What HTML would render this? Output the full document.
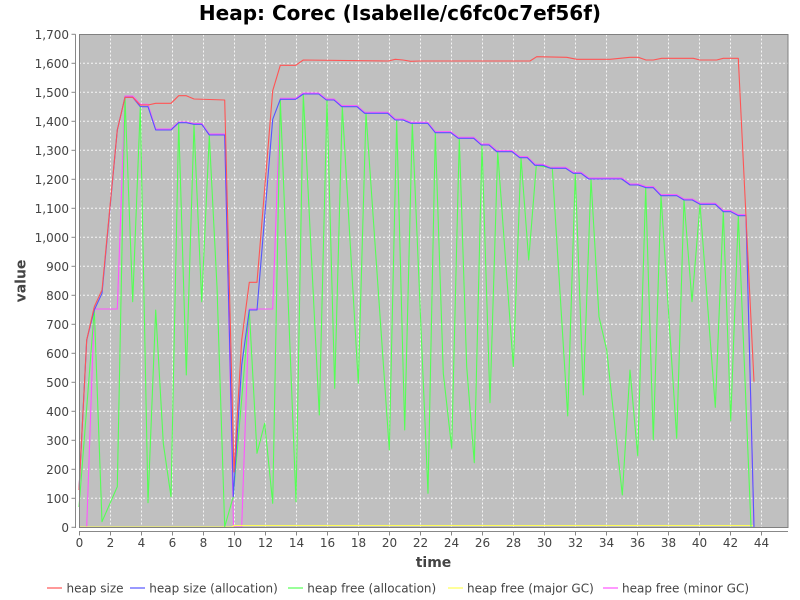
<!DOCTYPE html>
<html><head><meta charset="utf-8"><style>
html,body{margin:0;padding:0;background:#fff;}
svg{display:block;}
.t{font-family:"DejaVu Sans","Liberation Sans",sans-serif;}
</style></head><body>
<svg width="800" height="600" viewBox="0 0 800 600" xmlns="http://www.w3.org/2000/svg">
<rect x="0" y="0" width="800" height="600" fill="#ffffff"/>
<text class="t" x="400" y="20" text-anchor="middle" font-size="20" font-weight="bold" fill="#000">Heap: Corec (Isabelle/c6fc0c7ef56f)</text>
<rect x="79" y="34.5" width="709" height="493.5" fill="#c0c0c0"/>
<g stroke="#ffffff" stroke-width="1" stroke-dasharray="2,2" opacity="0.85">
<line x1="79" x2="788" y1="498.3" y2="498.3"/>
<line x1="79" x2="788" y1="469.3" y2="469.3"/>
<line x1="79" x2="788" y1="440.3" y2="440.3"/>
<line x1="79" x2="788" y1="411.3" y2="411.3"/>
<line x1="79" x2="788" y1="382.3" y2="382.3"/>
<line x1="79" x2="788" y1="353.3" y2="353.3"/>
<line x1="79" x2="788" y1="324.3" y2="324.3"/>
<line x1="79" x2="788" y1="295.3" y2="295.3"/>
<line x1="79" x2="788" y1="266.3" y2="266.3"/>
<line x1="79" x2="788" y1="237.3" y2="237.3"/>
<line x1="79" x2="788" y1="208.3" y2="208.3"/>
<line x1="79" x2="788" y1="179.3" y2="179.3"/>
<line x1="79" x2="788" y1="150.3" y2="150.3"/>
<line x1="79" x2="788" y1="121.3" y2="121.3"/>
<line x1="79" x2="788" y1="92.3" y2="92.3"/>
<line x1="79" x2="788" y1="63.3" y2="63.3"/>
<line y1="34.5" y2="528" x1="110.5" x2="110.5"/>
<line y1="34.5" y2="528" x1="141.5" x2="141.5"/>
<line y1="34.5" y2="528" x1="172.5" x2="172.5"/>
<line y1="34.5" y2="528" x1="203.5" x2="203.5"/>
<line y1="34.5" y2="528" x1="234.5" x2="234.5"/>
<line y1="34.5" y2="528" x1="265.5" x2="265.5"/>
<line y1="34.5" y2="528" x1="296.5" x2="296.5"/>
<line y1="34.5" y2="528" x1="327.5" x2="327.5"/>
<line y1="34.5" y2="528" x1="358.5" x2="358.5"/>
<line y1="34.5" y2="528" x1="389.5" x2="389.5"/>
<line y1="34.5" y2="528" x1="420.5" x2="420.5"/>
<line y1="34.5" y2="528" x1="451.5" x2="451.5"/>
<line y1="34.5" y2="528" x1="482.5" x2="482.5"/>
<line y1="34.5" y2="528" x1="513.5" x2="513.5"/>
<line y1="34.5" y2="528" x1="544.5" x2="544.5"/>
<line y1="34.5" y2="528" x1="575.5" x2="575.5"/>
<line y1="34.5" y2="528" x1="606.5" x2="606.5"/>
<line y1="34.5" y2="528" x1="637.5" x2="637.5"/>
<line y1="34.5" y2="528" x1="668.5" x2="668.5"/>
<line y1="34.5" y2="528" x1="699.5" x2="699.5"/>
<line y1="34.5" y2="528" x1="730.5" x2="730.5"/>
<line y1="34.5" y2="528" x1="761.5" x2="761.5"/>
</g>
<g fill="none" stroke-width="1.1" stroke-linejoin="round">
<!-- minor GC (magenta) -->
<polyline stroke="#ff55ff" points="86.7,527 94.3,309 117.3,309 125,96 132.7,96 140.3,104.3 148,104.3 155.7,129 171,129 178.7,122 186.3,122 194,123.5 201.7,123.5 209.3,134 224.7,134 233.5,527 241.7,527 249.3,309 272.7,309 280.3,98.3 295.7,98.3 303.3,93 318.7,93 326.3,99 334,99 341.7,105.7 357,105.7 364.7,112.3 387.7,112.3 395.3,119 403,119 410.7,122.3 427.7,122.3 435.3,131.7 450.7,131.7 458.3,137.3 473.7,137.3 481.3,144 489,144 496.7,150.7 512,150.7 519.7,156.7 527.3,156.7 535,164.3 542.7,164.3 550.3,167.3 565.7,167.3 573.3,172.3 581,172.3 588.7,178 621.7,178 630,184 638.3,184 646,186.7 653.3,186.7 661,194.7 676.7,194.7 684,199 692.3,199 700,203.3 715.3,203.3 723.3,210.7 730.7,210.7 738.3,214.7 746,214.7 754,527"/>
<!-- major GC (yellow) -->
<polyline stroke="#ffff55" points="79,527 232,527 234,525.5 753,525.5"/>
<!-- heap free (allocation) green -->
<polyline stroke="#55ff55" points="79,507 94.3,310 102,521.7 117.3,486.7 125,97.3 132.7,301.7 140.3,106.7 148,502.7 155.7,310 163.3,443.3 171,496.7 178.7,122.7 186.3,375 194,125 201.7,301.7 209.3,136 217,286.7 224.7,526.7 233.3,496.7 249.3,310 257,453.3 264.7,423.3 272.7,503.3 280.3,99.3 296,501.7 303.3,94 319.3,415 327,100 334.7,388.3 342.3,106.7 358.3,383.3 366,113.3 389.3,450 396.7,120 404.7,430 412.3,123.3 428,493.3 435.3,132.7 443.3,373.3 451.7,448.3 459.3,138.3 466.7,366.7 474.3,462.7 482,145 490,402.7 497.7,151.7 513.3,366.7 521,157.7 528.7,260 536.3,165.3 552.3,168.3 567.7,416 575.3,173.3 583.3,395 591,179 599,316.7 606.7,350 622.3,495 630,370 637.7,456 645.7,187.7 653.3,440 661,195.7 676.7,438.3 684,200 692,301.7 700,204.3 715.3,407.3 723.3,211.7 730.7,420.7 738.3,215.7 751,527"/>
<!-- heap size (allocation) blue -->
<polyline stroke="#5555ff" points="79,490 86.7,340 94.3,310 102,293.3 117.3,130 125,97.3 132.7,97.3 140.3,106.7 148,106.7 155.7,130 171,130 178.7,122.7 186.3,122.7 194,124.3 201.7,124.3 209.3,135 224.7,135 233.3,496.7 241.7,365 249.3,310 257,310 272.7,119.3 280.3,99.3 295.7,99.3 303.3,94 318.7,94 326.3,100 334,100 341.7,106.7 357,106.7 364.7,113.3 387.7,113.3 395.3,120 403,120 410.7,123.3 427.7,123.3 435.3,132.7 450.7,132.7 458.3,138.3 473.7,138.3 481.3,145 489,145 496.7,151.7 512,151.7 519.7,157.7 527.3,157.7 535,165.3 542.7,165.3 550.3,168.3 565.7,168.3 573.3,173.3 581,173.3 588.7,179 621.7,179 630,185 638.3,185 646,187.7 653.3,187.7 661,195.7 676.7,195.7 684,200 692.3,200 700,204.3 715.3,204.3 723.3,211.7 730.7,211.7 738.3,215.7 746,215.7 754,527.3"/>
<!-- heap size red -->
<polyline stroke="#ff5555" points="79,490 86.7,340 94.3,306.7 102,290 117.3,130 125,97.3 132.7,97.3 140.3,105 148,105 155.7,103.3 171,103.3 178.7,95.7 186.3,95.7 194,99 224.7,100 234,472 241.7,340 249.3,282.3 257,282.3 272.7,90.7 280.3,65.3 295.7,65.3 303.3,60 388.3,61 395.3,59.3 403,60 410.7,61.3 420,61 530,61 536.7,56.7 566.7,57.3 576.7,59.3 610,59.3 630,57.3 638.3,57.3 646,60 653.3,60 661.7,58.3 693.3,58.3 700,60 716.7,60 723.3,58.3 738.3,58.3 754,381.7"/>
</g>
<rect x="79.5" y="34.5" width="708.5" height="493" fill="none" stroke="#808080" stroke-width="1"/>
<g stroke="#888888" stroke-width="1">
<line x1="75.5" x2="75.5" y1="34.3" y2="528"/>
<line x1="79" x2="788" y1="531.5" y2="531.5"/>
<line x1="71.5" x2="75.5" y1="527.3" y2="527.3"/>
<line x1="71.5" x2="75.5" y1="498.3" y2="498.3"/>
<line x1="71.5" x2="75.5" y1="469.3" y2="469.3"/>
<line x1="71.5" x2="75.5" y1="440.3" y2="440.3"/>
<line x1="71.5" x2="75.5" y1="411.3" y2="411.3"/>
<line x1="71.5" x2="75.5" y1="382.3" y2="382.3"/>
<line x1="71.5" x2="75.5" y1="353.3" y2="353.3"/>
<line x1="71.5" x2="75.5" y1="324.3" y2="324.3"/>
<line x1="71.5" x2="75.5" y1="295.3" y2="295.3"/>
<line x1="71.5" x2="75.5" y1="266.3" y2="266.3"/>
<line x1="71.5" x2="75.5" y1="237.3" y2="237.3"/>
<line x1="71.5" x2="75.5" y1="208.3" y2="208.3"/>
<line x1="71.5" x2="75.5" y1="179.3" y2="179.3"/>
<line x1="71.5" x2="75.5" y1="150.3" y2="150.3"/>
<line x1="71.5" x2="75.5" y1="121.3" y2="121.3"/>
<line x1="71.5" x2="75.5" y1="92.3" y2="92.3"/>
<line x1="71.5" x2="75.5" y1="63.3" y2="63.3"/>
<line x1="71.5" x2="75.5" y1="34.3" y2="34.3"/>
<line y1="531.5" y2="535.5" x1="79.5" x2="79.5"/>
<line y1="531.5" y2="535.5" x1="110.5" x2="110.5"/>
<line y1="531.5" y2="535.5" x1="141.5" x2="141.5"/>
<line y1="531.5" y2="535.5" x1="172.5" x2="172.5"/>
<line y1="531.5" y2="535.5" x1="203.5" x2="203.5"/>
<line y1="531.5" y2="535.5" x1="234.5" x2="234.5"/>
<line y1="531.5" y2="535.5" x1="265.5" x2="265.5"/>
<line y1="531.5" y2="535.5" x1="296.5" x2="296.5"/>
<line y1="531.5" y2="535.5" x1="327.5" x2="327.5"/>
<line y1="531.5" y2="535.5" x1="358.5" x2="358.5"/>
<line y1="531.5" y2="535.5" x1="389.5" x2="389.5"/>
<line y1="531.5" y2="535.5" x1="420.5" x2="420.5"/>
<line y1="531.5" y2="535.5" x1="451.5" x2="451.5"/>
<line y1="531.5" y2="535.5" x1="482.5" x2="482.5"/>
<line y1="531.5" y2="535.5" x1="513.5" x2="513.5"/>
<line y1="531.5" y2="535.5" x1="544.5" x2="544.5"/>
<line y1="531.5" y2="535.5" x1="575.5" x2="575.5"/>
<line y1="531.5" y2="535.5" x1="606.5" x2="606.5"/>
<line y1="531.5" y2="535.5" x1="637.5" x2="637.5"/>
<line y1="531.5" y2="535.5" x1="668.5" x2="668.5"/>
<line y1="531.5" y2="535.5" x1="699.5" x2="699.5"/>
<line y1="531.5" y2="535.5" x1="730.5" x2="730.5"/>
<line y1="531.5" y2="535.5" x1="761.5" x2="761.5"/>
</g>
<g class="t" font-size="12" fill="#444444" text-anchor="end">
<text x="69" y="532">0</text>
<text x="69" y="503">100</text>
<text x="69" y="474">200</text>
<text x="69" y="445">300</text>
<text x="69" y="416">400</text>
<text x="69" y="387">500</text>
<text x="69" y="358">600</text>
<text x="69" y="329">700</text>
<text x="69" y="300">800</text>
<text x="69" y="271">900</text>
<text x="69" y="242">1,000</text>
<text x="69" y="213">1,100</text>
<text x="69" y="184">1,200</text>
<text x="69" y="155">1,300</text>
<text x="69" y="126">1,400</text>
<text x="69" y="97">1,500</text>
<text x="69" y="68">1,600</text>
<text x="69" y="39">1,700</text>
</g>
<g class="t" font-size="12" fill="#444444" text-anchor="middle">
<text x="79.5" y="547">0</text>
<text x="110.5" y="547">2</text>
<text x="141.5" y="547">4</text>
<text x="172.5" y="547">6</text>
<text x="203.5" y="547">8</text>
<text x="234.5" y="547">10</text>
<text x="265.5" y="547">12</text>
<text x="296.5" y="547">14</text>
<text x="327.5" y="547">16</text>
<text x="358.5" y="547">18</text>
<text x="389.5" y="547">20</text>
<text x="420.5" y="547">22</text>
<text x="451.5" y="547">24</text>
<text x="482.5" y="547">26</text>
<text x="513.5" y="547">28</text>
<text x="544.5" y="547">30</text>
<text x="575.5" y="547">32</text>
<text x="606.5" y="547">34</text>
<text x="637.5" y="547">36</text>
<text x="668.5" y="547">38</text>
<text x="699.5" y="547">40</text>
<text x="730.5" y="547">42</text>
<text x="761.5" y="547">44</text>
</g>
<text class="t" x="433.5" y="567" text-anchor="middle" font-size="14" font-weight="bold" fill="#444444">time</text>
<text class="t" transform="translate(25.5,281) rotate(-90)" text-anchor="middle" font-size="14" font-weight="bold" fill="#444444">value</text>
<g stroke-width="1.2">
<line x1="47" x2="62" y1="588" y2="588" stroke="#ff5555"/>
<line x1="130" x2="145" y1="588" y2="588" stroke="#5555ff"/>
<line x1="288" x2="303" y1="588" y2="588" stroke="#55ff55"/>
<line x1="448" x2="463" y1="588" y2="588" stroke="#ffff55"/>
<line x1="603" x2="618" y1="588" y2="588" stroke="#ff55ff"/>
</g>
<g class="t" font-size="12" fill="#444444">
<text x="66.5" y="592.5">heap size</text>
<text x="149.3" y="592.5">heap size (allocation)</text>
<text x="307.3" y="592.5">heap free (allocation)</text>
<text x="467" y="592.5">heap free (major GC)</text>
<text x="622" y="592.5">heap free (minor GC)</text>
</g>
</svg>
</body></html>
